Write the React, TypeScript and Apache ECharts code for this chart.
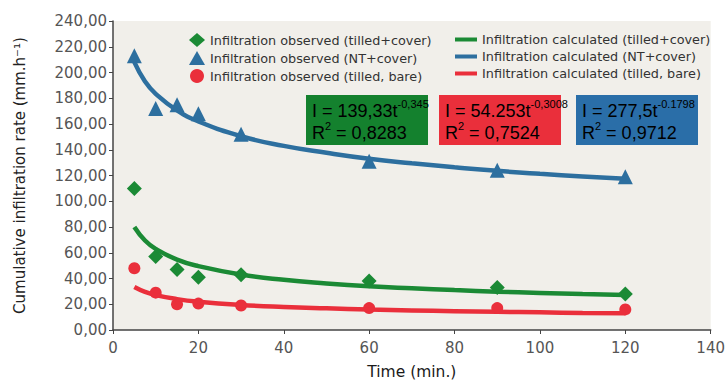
import React, { useEffect, useRef } from "react";
import * as echarts from "echarts";

const times = [5, 10, 15, 20, 30, 60, 90, 120];
const obsTilledCover = [110, 57, 47, 41, 43, 38, 33, 28];
const obsNTCover = [213, 172, 175, 168, 152, 131, 124, 119];
const obsTilledBare = [48, 29, 20, 20.5, 19, 17, 17, 16];

const curveTimes = [5, 7.5, 10, 15, 20, 30, 40, 50, 60, 70, 80, 90, 100, 110, 120];
const calcTilledCover = [80, 69.5, 63, 54.7, 49.6, 43.1, 39, 36.2, 34, 32.4, 31, 29.8, 28.8, 27.9, 27.2];
const calcNTCover = [208, 193, 183.4, 170.5, 162, 150.5, 143, 137.6, 133, 129.5, 126.4, 123.6, 121.3, 119.3, 117.4];
const calcTilledBare = [33.4, 29.6, 27.1, 24, 22, 19.5, 17.9, 16.8, 15.9, 15.2, 14.6, 14.1, 13.7, 13.3, 13];

const xTicks = { min: 0, max: 140, interval: 20 };
const yTicks = { min: 0, max: 240, interval: 20 };

const GREEN = "#1b8a35";
const BLUE = "#2d6f9f";
const RED = "#ea2f3b";

const pairs = (xs: number[], ys: number[]) => xs.map((x, i) => [x, ys[i]]);

export default function App() {
  const ref = useRef<HTMLDivElement>(null);
  useEffect(() => {
    if (!ref.current) return;
    const chart = echarts.init(ref.current, null, { renderer: "svg" });
    const legendText = { fontFamily: "DejaVu Sans", fontSize: 12.8, color: "#333" };
    const boxText = (a: string, sup: string, r: string) => ({
      text: `{a|${a}}{s|${sup}}\n{a|R}{s|2}{a| = ${r}}`,
      rich: {
        a: { fontFamily: "Liberation Sans", fontSize: 18, color: "#fff", lineHeight: 22, verticalAlign: "bottom" },
        s: { fontFamily: "Liberation Sans", fontSize: 11, color: "#fff", lineHeight: 22, verticalAlign: "top" },
      },
    });
    const box = (x: number, color: string, a: string, sup: string, r: string) => ({
      type: "group",
      left: x,
      top: 95,
      children: [
        { type: "rect", shape: { x: 0, y: 0, width: 122, height: 50 }, style: { fill: color } },
        { type: "text", x: 6, y: 3, style: boxText(a, sup, r) },
      ],
    });
    chart.setOption({
      animation: false,
      backgroundColor: "#ffffff",
      grid: {
        left: 113,
        right: 11,
        top: 21,
        bottom: 51,
        show: true,
        backgroundColor: "#f1efea",
        borderWidth: 0,
      },
      xAxis: {
        type: "value",
        ...xTicks,
        name: "Time (min.)",
        nameLocation: "middle",
        nameGap: 34,
        nameTextStyle: { fontFamily: "DejaVu Sans", fontSize: 15.5, color: "#1a1a1a" },
        axisLine: { show: true, lineStyle: { color: "#444", width: 1.5 } },
        axisTick: { show: true, length: 4, lineStyle: { color: "#444" } },
        axisLabel: { fontFamily: "DejaVu Sans", fontSize: 15, color: "#555", margin: 10 },
        splitLine: { show: false },
      },
      yAxis: {
        type: "value",
        ...yTicks,
        name: "Cumulative infiltration rate (mm.h\u207B\u00B9)",
        nameLocation: "middle",
        nameGap: 86,
        nameTextStyle: { fontFamily: "DejaVu Sans", fontSize: 15, color: "#222" },
        axisLine: { show: true, lineStyle: { color: "#444", width: 1.5 } },
        axisTick: { show: true, length: 4, lineStyle: { color: "#444" } },
        axisLabel: {
          fontFamily: "DejaVu Sans",
          fontSize: 15,
          color: "#555",
          margin: 6,
          formatter: (v: number) => v.toFixed(2).replace(".", ","),
        },
        splitLine: { show: false },
      },
      legend: [
        {
          orient: "vertical",
          left: 184,
          top: 28,
          itemGap: 4,
          itemWidth: 16,
          itemHeight: 14,
          textStyle: legendText,
          data: [
            "Infiltration observed (tilled+cover)",
            "Infiltration observed (NT+cover)",
            "Infiltration observed (tilled, bare)",
          ],
        },
        {
          orient: "vertical",
          left: 450,
          top: 28,
          itemGap: 4,
          itemWidth: 22,
          itemHeight: 14,
          icon: "path://M0,10L22,10L22,14L0,14Z",
          textStyle: legendText,
          data: [
            "Infiltration calculated (tilled+cover)",
            "Infiltration calculated (NT+cover)",
            "Infiltration calculated (tilled, bare)",
          ],
        },
      ],
      series: [
        {
          name: "Infiltration calculated (NT+cover)",
          type: "line",
          smooth: true,
          showSymbol: false,
          data: pairs(curveTimes, calcNTCover),
          lineStyle: { color: BLUE, width: 4.5 },
          itemStyle: { color: BLUE },
        },
        {
          name: "Infiltration calculated (tilled+cover)",
          type: "line",
          smooth: true,
          showSymbol: false,
          data: pairs(curveTimes, calcTilledCover),
          lineStyle: { color: GREEN, width: 4.5 },
          itemStyle: { color: GREEN },
        },
        {
          name: "Infiltration calculated (tilled, bare)",
          type: "line",
          smooth: true,
          showSymbol: false,
          data: pairs(curveTimes, calcTilledBare),
          lineStyle: { color: RED, width: 4.5 },
          itemStyle: { color: RED },
        },
        {
          name: "Infiltration observed (tilled+cover)",
          type: "scatter",
          symbol: "diamond",
          symbolSize: 15,
          data: pairs(times, obsTilledCover),
          itemStyle: { color: GREEN, opacity: 1 },
        },
        {
          name: "Infiltration observed (NT+cover)",
          type: "scatter",
          symbol: "triangle",
          symbolSize: 15,
          data: pairs(times, obsNTCover),
          itemStyle: { color: BLUE, opacity: 1 },
        },
        {
          name: "Infiltration observed (tilled, bare)",
          type: "scatter",
          symbol: "circle",
          symbolSize: 12,
          data: pairs(times, obsTilledBare),
          itemStyle: { color: RED, opacity: 1 },
        },
      ],
      graphic: [
        box(306, "#14812e", "I = 139,33t", "-0,345", "0,8283"),
        box(439, "#ea2f3b", "I = 54.253t", "-0,3008", "0,7524"),
        box(576, "#2a6ea8", "I = 277,5t", "-0.1798", "0,9712"),
      ],
    });
    return () => chart.dispose();
  }, []);
  return <div ref={ref} style={{ width: 728, height: 385, position: "absolute", left: 0, top: 0 }} />;
}
